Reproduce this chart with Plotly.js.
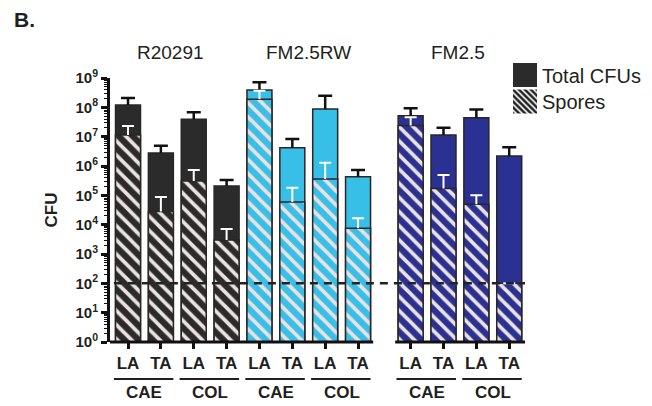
<!DOCTYPE html>
<html>
<head>
<meta charset="utf-8">
<script src="https://cdn.plot.ly/plotly-3.0.1.min.js"></script>
<style>html,body{margin:0;padding:0;background:#fff;}#chart{width:652px;height:406px;}</style>
</head>
<body>
<div id="chart"></div>
<script>
// ---------- data ----------
const strains = ['R20291', 'FM2.5RW', 'FM2.5'];
const media = ['CAE', 'COL'];
const sites = ['LA', 'TA'];
const strainColors = ['#2b2b2b', '#38bfe8', '#2a3192'];

// order: strain -> medium -> site
const totalCFU   = [1.2e8, 2.8e6, 3.9e7, 2.1e5, 3.9e8, 4.2e6, 8.8e7, 4.3e5, 5.2e7, 1.15e7, 4.4e7, 2.2e6];
const totalUpper = [2.1e8, 4.9e6, 6.8e7, 3.3e5, 7.1e8, 8.3e6, 2.5e8, 7.3e5, 9.3e7, 2.0e7, 8.5e7, 4.4e6];
const spores     = [1.15e7, 2.8e4, 3.1e5, 3.0e3, 1.9e8, 5.9e4, 3.6e5, 7.5e3, 2.4e7, 1.7e5, 5.0e4, 100];
const sporeUpper = [2.3e7, 8.7e4, 7.3e5, 7.1e3, 3.7e8, 1.8e5, 1.3e6, 1.65e4, 4.6e7, 4.9e5, 1.0e5, 100];
const detectionLimit = 100;
const yTickVals = [1, 10, 100, 1e3, 1e4, 1e5, 1e6, 1e7, 1e8, 1e9];
const yTickText = ['0','1','2','3','4','5','6','7','8','9'].map(e => '10<sup>' + e + '</sup>');

// ---------- layout helpers ----------
const GAP = 0.6; // extra space before the 3rd strain
const xs = [], xLabels = [], barColors = [];
strains.forEach((s, si) => {
  media.forEach((m, mi) => {
    sites.forEach((t, ti) => {
      const idx = si * 4 + mi * 2 + ti;
      xs.push(idx + (si >= 2 ? GAP : 0));
      xLabels.push(t);
      barColors.push(strainColors[si]);
    });
  });
});
const errUp = (vals, upp) => vals.map((v, i) => upp[i] > v ? upp[i] - v : NaN);

const FONT = 'Liberation Sans, Arial, Helvetica, sans-serif';
const TXT = '#231f20';
const stripe = '#ebe1e1';
const outline = '#2a2626';

const total = {
  type: 'bar', name: 'Total CFUs', x: xs, y: totalCFU, width: 0.76, legend: 'legend',
  marker: {color: barColors, line: {color: outline, width: 1.5}},
  error_y: {type: 'data', symmetric: false, array: errUp(totalCFU, totalUpper),
            arrayminus: totalCFU.map(() => 0), color: '#111', thickness: 2.5, width: 7}
};
const sporeUp = errUp(spores, sporeUpper);
const sporeTraces = strains.map((s, si) => {
  const sl = a => a.slice(si * 4, si * 4 + 4);
  return {
    type: 'bar', name: 'Spores', x: sl(xs), y: sl(spores), width: 0.76,
    legend: 'legend2', legendgroup: 'spores', showlegend: si === 0,
    marker: {color: strainColors[si], line: {color: outline, width: 1.5},
             pattern: {shape: '\\', fgcolor: stripe, bgcolor: strainColors[si], size: 10, solidity: 0.38}},
    error_y: {type: 'data', symmetric: false, array: sl(sporeUp),
              arrayminus: [0, 0, 0, 0], color: '#ffffff', thickness: 2, width: 6}
  };
});

const yTop = 78, yBot = 342, plotH = yBot - yTop;
const pyPix = p => (yBot - p) / plotH; // pixel row -> paper y

const shapes = [];
// broken x axis line
shapes.push({type: 'line', xref: 'x', yref: 'paper', x0: -0.66, x1: 7.46, y0: 0, y1: 0, line: {color: '#111', width: 3}});
shapes.push({type: 'line', xref: 'x', yref: 'paper', x0: 8.13, x1: 12.08, y0: 0, y1: 0, line: {color: '#111', width: 3}});
// detection limit
shapes.push({type: 'line', xref: 'x', yref: 'y', x0: -0.43, x1: 12.08,
             y0: detectionLimit, y1: detectionLimit,
             line: {color: '#222', width: 2.5, dash: '8px,6px'}});

const annotations = [];
strains.forEach((s, si) => {
  media.forEach((m, mi) => {
    const a = xs[si * 4 + mi * 2], b = xs[si * 4 + mi * 2 + 1];
    shapes.push({type: 'line', xref: 'x', yref: 'paper', x0: a - 0.43, x1: b + 0.38,
                 y0: pyPix(379), y1: pyPix(379), line: {color: TXT, width: 2}});
    annotations.push({xref: 'x', yref: 'paper', x: (a + b) / 2, y: pyPix(392), text: m, showarrow: false,
                      xanchor: 'center', yanchor: 'middle', font: {family: FONT, size: 17, color: TXT, weight: 'bold'}});
  });
  const first = xs[si * 4], last = xs[si * 4 + 3];
  const off = [-0.2, 0.0, -0.05][si];
  annotations.push({xref: 'x', yref: 'paper', x: (first + last) / 2 + off, y: pyPix(53), text: s, showarrow: false,
                    xanchor: 'center', yanchor: 'middle', font: {family: FONT, size: 19, color: TXT}});
});
annotations.push({xref: 'paper', yref: 'paper', x: (12 - 110) / 415, y: pyPix(20), text: 'B.', showarrow: false,
                  xanchor: 'left', yanchor: 'middle', font: {family: FONT, size: 21, color: TXT, weight: 'bold'}});

const legBase = {xref: 'container', yref: 'container', x: 502 / 652, xanchor: 'left', yanchor: 'top',
                 font: {family: FONT, size: 20, color: TXT}, bgcolor: 'rgba(0,0,0,0)', itemwidth: 30};

const layout = {
  width: 652, height: 406,
  margin: {l: 110, r: 127, t: yTop, b: 406 - yBot, autoexpand: false},
  paper_bgcolor: '#fff', plot_bgcolor: 'rgba(0,0,0,0)',
  barmode: 'overlay', hovermode: false,
  showlegend: true,
  legend: Object.assign({}, legBase, {y: 1 - 55.5 / 406}),
  legend2: Object.assign({}, legBase, {y: 1 - 82 / 406}),
  xaxis: {range: [-0.548, 12.08], showline: false, zeroline: false, showgrid: false,
          tickmode: 'array', tickvals: xs, ticktext: xLabels,
          ticks: 'outside', ticklen: 6, tickwidth: 2.5, tickcolor: '#111',
          tickfont: {family: FONT, size: 17, color: TXT, weight: 'bold'}, fixedrange: true},
  yaxis: {type: 'log', range: [0, 9], showline: true, linecolor: '#111', linewidth: 3, mirror: false,
          zeroline: false, showgrid: false,
          tickmode: 'array', tickvals: yTickVals, ticktext: yTickText,
          ticks: 'outside', ticklen: 6, tickwidth: 2.5, tickcolor: '#111',
          minor: {ticks: 'outside', ticklen: 3, tickwidth: 1.2, tickcolor: '#111', dtick: 'D1', showgrid: false},
          tickfont: {family: FONT, size: 15, color: TXT, weight: 'bold'},
          title: {text: 'CFU', standoff: 14, font: {family: FONT, size: 17, color: TXT, weight: 'bold'}},
          fixedrange: true},
  shapes: shapes,
  annotations: annotations
};

Plotly.newPlot('chart', [total].concat(sporeTraces), layout, {displayModeBar: false}).then(() => {
  // larger legend swatches
  document.querySelectorAll('#chart .legendpoints path').forEach(p => {
    p.setAttribute('d', 'M15,12H-9V-12H15Z');
    p.style.strokeWidth = '0px';
  });
  // finer hatching in legend swatch
  document.querySelectorAll('pattern').forEach(pt => {
    if (pt.id.indexOf('legend') >= 0) {
      pt.setAttribute('patternTransform', 'scale(0.42)');
      const r = pt.querySelector('rect'); if (r) r.setAttribute('fill', '#1f1f1f');
      const pa = pt.querySelector('path'); if (pa) pa.style.stroke = '#ffffff';
    }
  });
  // one-sided error bars: drop the lower cap
  document.querySelectorAll('#chart .errorbar path').forEach(p => {
    const d = p.getAttribute('d');
    if (d) p.setAttribute('d', d.replace(/m-?[\d.]+,0h[\d.]+$/, ''));
  });
});
</script>
</body>
</html>
